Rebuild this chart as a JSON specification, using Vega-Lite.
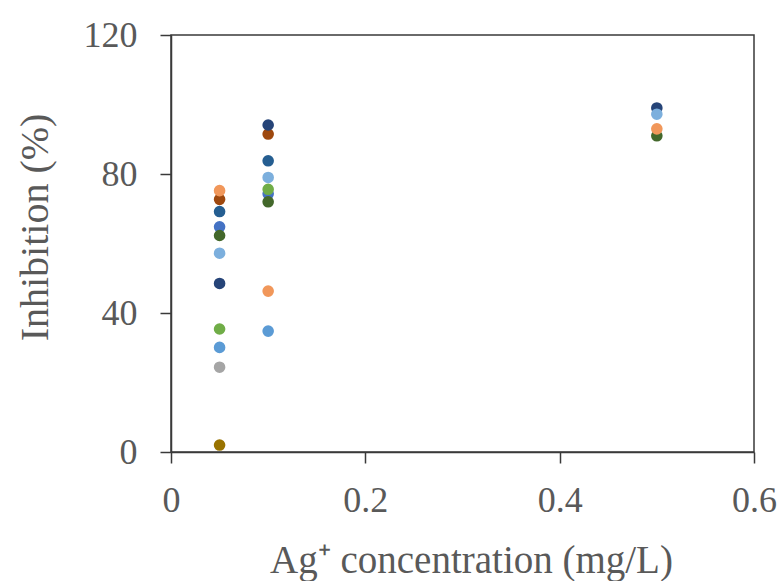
{
  "$schema": "https://vega.github.io/schema/vega-lite/v6.json",
  "width": 583,
  "height": 417,
  "autosize": {"type": "none"},
  "padding": {"left": 171, "top": 35, "right": 29, "bottom": 129},
  "background": "white",
  "config": {
    "view": {"stroke": "#3a3a3a", "strokeWidth": 1.5},
    "font": "Liberation Serif"
  },
  "data": {
    "values": [
      {"conc": 0.05, "inhibition": 2.0, "series": "gold"},
      {"conc": 0.05, "inhibition": 24.4, "series": "gray"},
      {"conc": 0.05, "inhibition": 30.1, "series": "sky"},
      {"conc": 0.05, "inhibition": 35.4, "series": "green"},
      {"conc": 0.05, "inhibition": 48.5, "series": "navy"},
      {"conc": 0.05, "inhibition": 57.2, "series": "lightblue"},
      {"conc": 0.05, "inhibition": 64.8, "series": "midblue"},
      {"conc": 0.05, "inhibition": 62.3, "series": "darkgreen"},
      {"conc": 0.05, "inhibition": 72.7, "series": "brown"},
      {"conc": 0.05, "inhibition": 69.2, "series": "bluedark"},
      {"conc": 0.05, "inhibition": 75.2, "series": "lightorange"},
      {"conc": 0.1, "inhibition": 34.8, "series": "sky"},
      {"conc": 0.1, "inhibition": 46.3, "series": "lightorange"},
      {"conc": 0.1, "inhibition": 79.0, "series": "lightblue"},
      {"conc": 0.1, "inhibition": 74.3, "series": "midblue"},
      {"conc": 0.1, "inhibition": 75.6, "series": "green"},
      {"conc": 0.1, "inhibition": 72.0, "series": "darkgreen"},
      {"conc": 0.1, "inhibition": 83.8, "series": "bluedark"},
      {"conc": 0.1, "inhibition": 91.5, "series": "brown"},
      {"conc": 0.1, "inhibition": 94.1, "series": "navy"},
      {"conc": 0.5, "inhibition": 99.0, "series": "navy"},
      {"conc": 0.5, "inhibition": 97.2, "series": "lightblue"},
      {"conc": 0.5, "inhibition": 91.0, "series": "darkgreen"},
      {"conc": 0.5, "inhibition": 93.0, "series": "lightorange"}
    ]
  },
  "mark": {"type": "point", "filled": true, "size": 135, "opacity": 1, "shape": "circle"},
  "encoding": {
    "x": {
      "field": "conc",
      "type": "quantitative",
      "scale": {"domain": [0, 0.6], "nice": false, "zero": true},
      "axis": {
        "values": [0, 0.2, 0.4, 0.6],
        "format": ".1~f",
        "labelExpr": "datum.value === 0 ? '0' : datum.label",
        "grid": false,
        "domainColor": "#3a3a3a",
        "domainWidth": 1.5,
        "tickColor": "#3a3a3a",
        "tickWidth": 1.5,
        "tickSize": 11,
        "labelFont": "Liberation Serif",
        "labelFontSize": 36,
        "labelColor": "#595959",
        "labelPadding": 20,
        "labelFlush": false,
        "title": "Ag⁺ concentration (mg/L)",
        "titleFont": "Liberation Serif",
        "titleFontSize": 39,
        "titleFontWeight": "normal",
        "titleColor": "#595959",
        "titleX": 300,
        "titleY": 120,
        "titleBaseline": "alphabetic",
        "titleAlign": "center"
      }
    },
    "y": {
      "field": "inhibition",
      "type": "quantitative",
      "scale": {"domain": [0, 120], "nice": false},
      "axis": {
        "values": [0, 40, 80, 120],
        "grid": false,
        "domainColor": "#3a3a3a",
        "domainWidth": 1.5,
        "tickColor": "#3a3a3a",
        "tickWidth": 1.5,
        "tickSize": 11,
        "labelFont": "Liberation Serif",
        "labelFontSize": 36,
        "labelColor": "#595959",
        "labelPadding": 23,
        "labelFlush": false,
        "title": "Inhibition (%)",
        "titleFont": "Liberation Serif",
        "titleFontSize": 40,
        "titleFontWeight": "normal",
        "titleColor": "#595959",
        "titleAngle": -90,
        "titleX": -136,
        "titleY": 192,
        "titleBaseline": "middle",
        "titleAlign": "center"
      }
    },
    "color": {
      "field": "series",
      "type": "nominal",
      "legend": null,
      "scale": {
        "domain": ["gold", "gray", "sky", "green", "navy", "lightblue", "midblue", "darkgreen", "brown", "bluedark", "lightorange"],
        "range": ["#997300", "#A5A5A5", "#5B9BD5", "#70AD47", "#264478", "#7CAFDD", "#4472C4", "#43682B", "#9E480E", "#255E91", "#F1975A"]
      }
    }
  }
}
